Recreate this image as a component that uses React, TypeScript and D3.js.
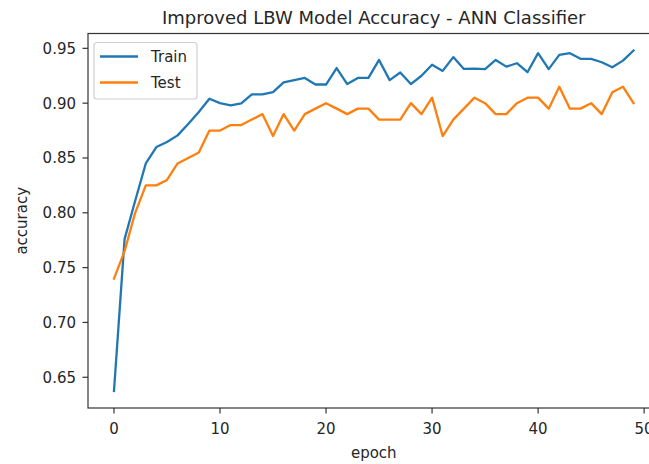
import React from "react";
import * as d3 from "d3";

const trainAcc = [0.6375, 0.776, 0.811, 0.845, 0.860, 0.8645, 0.8706, 0.881, 0.892, 0.904, 0.900, 0.898, 0.8997, 0.908, 0.908, 0.910, 0.919, 0.921, 0.923, 0.917, 0.917, 0.932, 0.9174, 0.923, 0.923, 0.9394, 0.921, 0.928, 0.9174, 0.925, 0.935, 0.9294, 0.942, 0.9312, 0.9315, 0.931, 0.9394, 0.9333, 0.9364, 0.9282, 0.9456, 0.931, 0.944, 0.9456, 0.9404, 0.9404, 0.9373, 0.9327, 0.9388, 0.948];
const testAcc = [0.74, 0.765, 0.80, 0.825, 0.825, 0.83, 0.845, 0.85, 0.855, 0.875, 0.875, 0.88, 0.88, 0.885, 0.89, 0.87, 0.89, 0.875, 0.89, 0.895, 0.90, 0.895, 0.89, 0.895, 0.895, 0.885, 0.885, 0.885, 0.90, 0.89, 0.905, 0.87, 0.885, 0.895, 0.905, 0.90, 0.89, 0.89, 0.90, 0.905, 0.905, 0.895, 0.915, 0.895, 0.895, 0.90, 0.89, 0.91, 0.915, 0.90];
const xTicks = [0, 10, 20, 30, 40, 50];
const yTicks = [0.65, 0.70, 0.75, 0.80, 0.85, 0.90, 0.95];
const seriesNames = ["Train", "Test"];
const colors = ["#1f77b4", "#ff7f0e"];
const title = "Improved LBW Model Accuracy - ANN Classifier";

const W = 649, H = 464;
const left = 88, right = 659.5, top = 33.5, bottom = 408;
const font = "'DejaVu Sans', sans-serif";
const textColor = "#262626";

export default function App() {
  const n = trainAcc.length;
  const xMax = n - 1;
  const xPad = xMax * 0.05;
  const x = d3.scaleLinear().domain([-xPad, xMax + xPad]).range([left, right]);
  const all = trainAcc.concat(testAcc);
  const lo = d3.min(all) as number, hi = d3.max(all) as number;
  const yPad = (hi - lo) * 0.05;
  const y = d3.scaleLinear().domain([lo - yPad, hi + yPad]).range([bottom, top]);
  const line = d3.line<number>().x((_, i) => x(i)).y((d) => y(d));
  const series = [trainAcc, testAcc];

  return (
    <svg width={W} height={H} style={{ position: "absolute", left: 0, top: 0, background: "#fff" }} fontFamily={font}>
      <rect x={0} y={0} width={W} height={H} fill="#fff" />
      <text x={(left + right) / 2} y={24} textAnchor="middle" fontSize={18} fill={textColor}>{title}</text>
      {series.map((s, k) => (
        <path key={k} d={line(s) || ""} fill="none" stroke={colors[k]} strokeWidth={2.3} strokeLinejoin="round" strokeLinecap="square" />
      ))}
      {/* spines */}
      <rect x={left} y={top} width={right - left} height={bottom - top} fill="none" stroke="#333" strokeWidth={1.2} />
      {xTicks.map((t) => (
        <g key={t} transform={`translate(${x(t)},${bottom})`}>
          <line y1={0} y2={5.5} stroke="#333" strokeWidth={1.2} />
          <text y={26} textAnchor="middle" fontSize={15} fill={textColor}>{t}</text>
        </g>
      ))}
      {yTicks.map((t) => (
        <g key={t} transform={`translate(${left},${y(t)})`}>
          <line x1={0} x2={-5.5} stroke="#333" strokeWidth={1.2} />
          <text x={-12} dy="0.36em" textAnchor="end" fontSize={15} fill={textColor}>{t.toFixed(2)}</text>
        </g>
      ))}
      <text x={(left + right) / 2} y={458} textAnchor="middle" fontSize={15} fill={textColor}>epoch</text>
      <text transform={`translate(27,${(top + bottom) / 2}) rotate(-90)`} textAnchor="middle" fontSize={15} fill={textColor}>accuracy</text>
      {/* legend */}
      <g>
        <rect x={94} y={42.5} width={103} height={56.5} rx={3} fill="#fff" fillOpacity={0.8} stroke="#d0d0d0" strokeWidth={1.2} />
        {seriesNames.map((nm, k) => (
          <g key={nm} transform={`translate(0,${56.5 + k * 26})`}>
            <line x1={100} x2={138} stroke={colors[k]} strokeWidth={2.3} />
            <text x={151} dy="0.36em" fontSize={15} fill={textColor}>{nm}</text>
          </g>
        ))}
      </g>
    </svg>
  );
}
